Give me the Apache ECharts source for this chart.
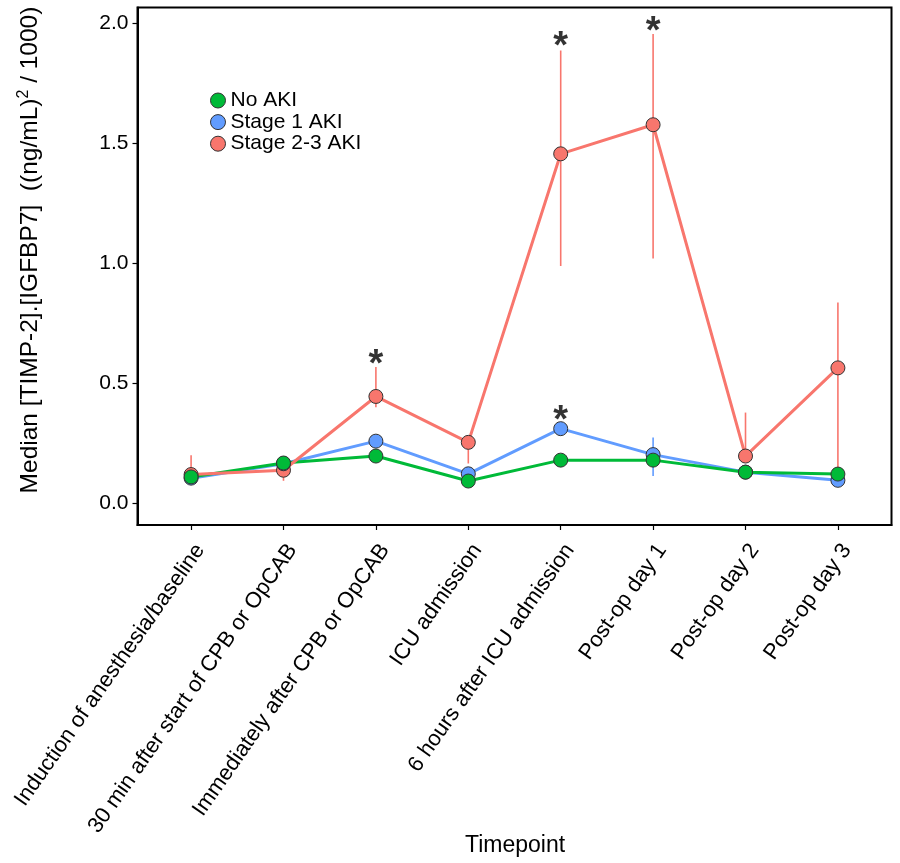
<!DOCTYPE html>
<html>
<head>
<meta charset="utf-8">
<script src="https://cdn.jsdelivr.net/npm/echarts@6/dist/echarts.min.js"></script>
<style>
html,body{margin:0;padding:0;background:#fff;}
#chart{width:900px;height:863px;}
</style>
</head>
<body>
<div id="chart"></div>
<script>
const categories = [
  'Induction of anesthesia/baseline',
  '30 min after start of CPB or OpCAB',
  'Immediately after CPB or OpCAB',
  'ICU admission',
  '6 hours after ICU admission',
  'Post-op day 1',
  'Post-op day 2',
  'Post-op day 3'
];
const groupNames = ['No AKI', 'Stage 1 AKI', 'Stage 2-3 AKI'];

const noAki      = [0.110, 0.168, 0.197, 0.093, 0.180, 0.180, 0.130, 0.122];
const noAkiLow   = [0.095, 0.155, 0.185, 0.080, 0.168, 0.168, 0.118, 0.110];
const noAkiHigh  = [0.125, 0.180, 0.210, 0.105, 0.192, 0.192, 0.142, 0.134];

const stage1     = [0.105, 0.165, 0.259, 0.123, 0.311, 0.203, 0.130, 0.096];
const stage1Low  = [0.090, 0.150, 0.240, 0.105, 0.290, 0.114, 0.115, 0.080];
const stage1High = [0.120, 0.180, 0.280, 0.140, 0.330, 0.274, 0.145, 0.112];

const stage23     = [0.120, 0.138, 0.445, 0.254, 1.455, 1.576, 0.197, 0.564];
const stage23Low  = [0.095, 0.094, 0.400, 0.166, 0.988, 1.019, 0.180, 0.110];
const stage23High = [0.200, 0.170, 0.568, 0.270, 1.885, 1.954, 0.378, 0.836];

// significance markers: category index and height
const starIndex = [2, 4, 5, 4];
const starValue = [0.610, 1.935, 1.997, 0.378];

const yTicks = [0, 0.5, 1.0, 1.5, 2.0];
const xTicks = categories.map((c, i) => i);

const colors = {green: '#00BA38', blue: '#619CFF', red: '#F8766D'};
const FONT = 'Liberation Sans, Arial, sans-serif';

function pts(arr){ return arr.map((v,i)=>[i, v]); }
function errData(lo, hi){ return lo.map((v,i)=>[i, v, hi[i]]); }

function errSeries(name, lo, hi, color){
  return {
    type: 'custom', name: name, z: 1, silent: true,
    data: errData(lo, hi),
    encode: {x: 0, y: [1, 2]},
    renderItem: function(params, api){
      const x = api.value(0);
      const p1 = api.coord([x, api.value(1)]);
      const p2 = api.coord([x, api.value(2)]);
      return {type: 'line', shape: {x1: p1[0], y1: p1[1], x2: p2[0], y2: p2[1]},
              style: {stroke: color, lineWidth: 1.6}};
    }
  };
}
function lineSeries(name, vals, color){
  return {type: 'line', name: name, z: 2, data: pts(vals), showSymbol: false, symbol: 'none',
          lineStyle: {color: color, width: 3}, silent: true};
}
function pointSeries(name, vals, color){
  return {type: 'scatter', name: name, z: 3, data: pts(vals), symbol: 'circle', symbolSize: 14,
          itemStyle: {color: color, borderColor: '#333', borderWidth: 1, opacity: 1}};
}

const chart = echarts.init(document.getElementById('chart'), null, {renderer: 'canvas'});
const option = {
  animation: false,
  backgroundColor: '#fff',
  grid: {left: 137.5, right: 8.5, top: 7.5, bottom: 338, show: true, borderColor: '#000', borderWidth: 2,
         backgroundColor: 'transparent', containLabel: false, outerBoundsMode: 'none'},
  legend: {
    orient: 'vertical', left: 205, top: 85,
    itemWidth: 15, itemHeight: 15, itemGap: 0.6,
    textStyle: {fontSize: 21, color: '#000', fontFamily: FONT},
    data: [
      {name: groupNames[0], icon: 'circle', itemStyle: {color: colors.green, borderColor: '#333', borderWidth: 1}},
      {name: groupNames[1], icon: 'circle', itemStyle: {color: colors.blue, borderColor: '#333', borderWidth: 1}},
      {name: groupNames[2], icon: 'circle', itemStyle: {color: colors.red, borderColor: '#333', borderWidth: 1}}
    ]
  },
  xAxis: {
    type: 'value', min: -0.58, max: 7.58,
    axisLine: {show: true, onZero: false, lineStyle: {color: '#000', width: 2}},
    axisTick: {show: true, customValues: xTicks, length: 5, lineStyle: {color: '#000', width: 1.2}},
    axisLabel: {customValues: xTicks, rotate: 55, margin: 15, fontSize: 22, color: '#000', fontFamily: FONT,
                verticalAlign: 'top',
                formatter: v => categories[Math.round(v)]},
    splitLine: {show: false}
  },
  yAxis: {
    type: 'value', min: -0.09, max: 2.064,
    axisLine: {show: true, onZero: false, lineStyle: {color: '#000', width: 2}},
    axisTick: {show: true, customValues: yTicks, length: 5, lineStyle: {color: '#000', width: 1.2}},
    axisLabel: {customValues: yTicks, margin: 9, fontSize: 21, color: '#000', fontFamily: FONT,
                formatter: v => v.toFixed(1)},
    splitLine: {show: false}
  },
  graphic: [{
    type: 'text', x: 30, y: 250, rotation: Math.PI / 2, z: 10,
    style: {
      text: 'Median [TIMP-2].[IGFBP7]  ((ng/mL){sup|2} / 1000)',
      fill: '#000', fontSize: 24.5, fontFamily: FONT, align: 'center', verticalAlign: 'middle',
      rich: {sup: {fontSize: 16, fontFamily: FONT, fill: '#000', padding: [0, 0, 13, 0]}}
    }
  }, {
    type: 'text', x: 515, y: 846, z: 10,
    style: {text: 'Timepoint', fill: '#000', fontSize: 23, fontFamily: FONT, align: 'center', verticalAlign: 'middle'}
  }],
  series: [
    pointSeries(groupNames[2], stage23, colors.red),
    pointSeries(groupNames[1], stage1, colors.blue),
    pointSeries(groupNames[0], noAki, colors.green),
    errSeries(groupNames[0], noAkiLow, noAkiHigh, colors.green),
    errSeries(groupNames[1], stage1Low, stage1High, colors.blue),
    errSeries(groupNames[2], stage23Low, stage23High, colors.red),
    lineSeries(groupNames[1], stage1, colors.blue),
    lineSeries(groupNames[0], noAki, colors.green),
    lineSeries(groupNames[2], stage23, colors.red),
    {
      type: 'scatter', name: 'sig', z: 4, symbolSize: 1, silent: true,
      itemStyle: {color: 'rgba(0,0,0,0)'},
      data: starIndex.map((x, i) => [x, starValue[i]]),
      label: {show: true, position: 'inside', formatter: '*', fontSize: 38, fontWeight: 'bold',
              color: '#000', fontFamily: FONT, offset: [0, 9]}
    }
  ]
};
chart.setOption(option);
</script>
</body>
</html>
